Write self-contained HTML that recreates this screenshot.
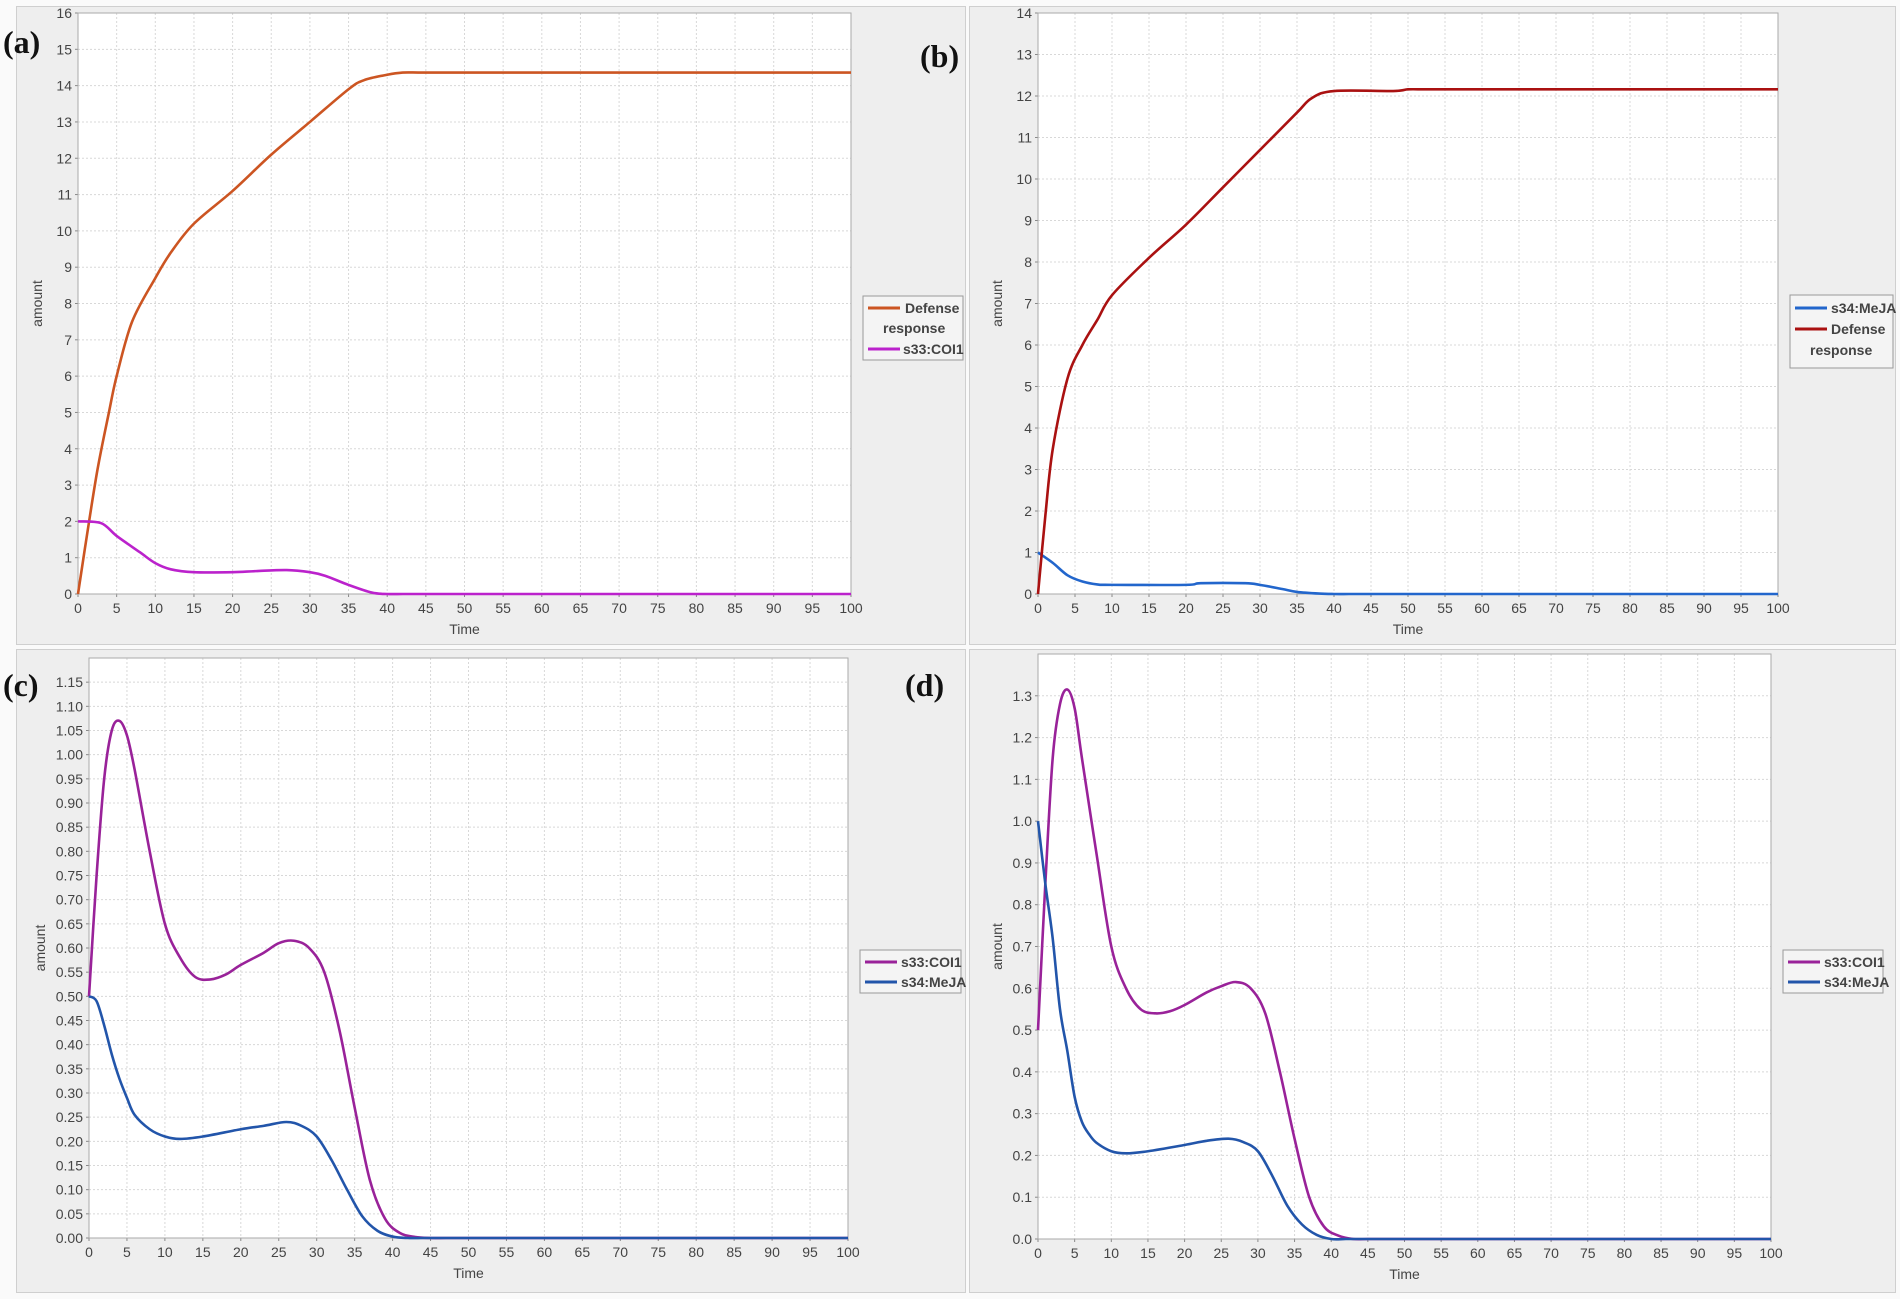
<!DOCTYPE html>
<html><head><meta charset="utf-8">
<style>
html,body{margin:0;padding:0;background:#fafafa;}
body{width:1900px;height:1299px;overflow:hidden;position:relative;font-family:"Liberation Sans",sans-serif;}
.pan{position:absolute;background:#eeeeee;border:1px solid #cfcfcf;box-sizing:border-box;}
.lbl{position:absolute;font-family:"Liberation Serif",serif;font-weight:bold;font-size:32px;color:#111;}
svg{position:absolute;left:0;top:0;}
svg text{font-family:"Liberation Sans",sans-serif;fill:#444;font-size:14px;}
</style></head><body>
<div class="pan" style="left:16px;top:6px;width:950px;height:639px"></div>
<div class="pan" style="left:969px;top:6px;width:927px;height:639px"></div>
<div class="pan" style="left:16px;top:649px;width:950px;height:644px"></div>
<div class="pan" style="left:969px;top:649px;width:927px;height:644px"></div>

<svg width="1900" height="1299" id="s">
<g id="pa" data-x0="78" data-x1="851" data-y0="594" data-y1="13" data-ymax="16">
<g class="yt"><text>0</text><text>1</text><text>2</text><text>3</text><text>4</text><text>5</text><text>6</text><text>7</text><text>8</text><text>9</text><text>10</text><text>11</text><text>12</text><text>13</text><text>14</text><text>15</text><text>16</text></g>
<g class="xt"><text>0</text><text>5</text><text>10</text><text>15</text><text>20</text><text>25</text><text>30</text><text>35</text><text>40</text><text>45</text><text>50</text><text>55</text><text>60</text><text>65</text><text>70</text><text>75</text><text>80</text><text>85</text><text>90</text><text>95</text><text>100</text></g>
<text class="xl">Time</text><text class="yl">amount</text>
</g>
<g id="pb" data-x0="1038" data-x1="1778" data-y0="594" data-y1="13" data-ymax="14">
<g class="yt"><text>0</text><text>1</text><text>2</text><text>3</text><text>4</text><text>5</text><text>6</text><text>7</text><text>8</text><text>9</text><text>10</text><text>11</text><text>12</text><text>13</text><text>14</text></g>
<g class="xt"><text>0</text><text>5</text><text>10</text><text>15</text><text>20</text><text>25</text><text>30</text><text>35</text><text>40</text><text>45</text><text>50</text><text>55</text><text>60</text><text>65</text><text>70</text><text>75</text><text>80</text><text>85</text><text>90</text><text>95</text><text>100</text></g>
<text class="xl">Time</text><text class="yl">amount</text>
</g>
<g id="pc" data-x0="89" data-x1="848" data-y0="1238" data-y1="658" data-ymax="1.2">
<g class="yt"><text>0.00</text><text>0.05</text><text>0.10</text><text>0.15</text><text>0.20</text><text>0.25</text><text>0.30</text><text>0.35</text><text>0.40</text><text>0.45</text><text>0.50</text><text>0.55</text><text>0.60</text><text>0.65</text><text>0.70</text><text>0.75</text><text>0.80</text><text>0.85</text><text>0.90</text><text>0.95</text><text>1.00</text><text>1.05</text><text>1.10</text><text>1.15</text></g>
<g class="xt"><text>0</text><text>5</text><text>10</text><text>15</text><text>20</text><text>25</text><text>30</text><text>35</text><text>40</text><text>45</text><text>50</text><text>55</text><text>60</text><text>65</text><text>70</text><text>75</text><text>80</text><text>85</text><text>90</text><text>95</text><text>100</text></g>
<text class="xl">Time</text><text class="yl">amount</text>
</g>
<g id="pd" data-x0="1038" data-x1="1771" data-y0="1239" data-y1="654" data-ymax="1.4">
<g class="yt"><text>0.0</text><text>0.1</text><text>0.2</text><text>0.3</text><text>0.4</text><text>0.5</text><text>0.6</text><text>0.7</text><text>0.8</text><text>0.9</text><text>1.0</text><text>1.1</text><text>1.2</text><text>1.3</text></g>
<g class="xt"><text>0</text><text>5</text><text>10</text><text>15</text><text>20</text><text>25</text><text>30</text><text>35</text><text>40</text><text>45</text><text>50</text><text>55</text><text>60</text><text>65</text><text>70</text><text>75</text><text>80</text><text>85</text><text>90</text><text>95</text><text>100</text></g>
<text class="xl">Time</text><text class="yl">amount</text>
</g>

<g font-weight="bold">
<rect x="863" y="296" width="100" height="64" fill="#f4f4f4" stroke="#999"/>
<line x1="868" y1="308" x2="900" y2="308" stroke="#cc5522" stroke-width="3"/>
<text x="905" y="313" font-size="12" fill="#333">Defense</text>
<text x="883" y="333" font-size="12" fill="#333">response</text>
<line x1="868" y1="349" x2="900" y2="349" stroke="#bb22cc" stroke-width="3"/>
<text x="903" y="354" font-size="12" fill="#333">s33:COI1</text>

<rect x="1790" y="295" width="103" height="73" fill="#f4f4f4" stroke="#999"/>
<line x1="1795" y1="308" x2="1827" y2="308" stroke="#2266cc" stroke-width="3"/>
<text x="1831" y="313" font-size="12" fill="#333">s34:MeJA</text>
<line x1="1795" y1="329" x2="1827" y2="329" stroke="#aa1111" stroke-width="3"/>
<text x="1831" y="334" font-size="12" fill="#333">Defense</text>
<text x="1810" y="355" font-size="12" fill="#333">response</text>

<rect x="860" y="950" width="101" height="43" fill="#f4f4f4" stroke="#999"/>
<line x1="865" y1="962" x2="897" y2="962" stroke="#992299" stroke-width="3"/>
<text x="901" y="967" font-size="12" fill="#333">s33:COI1</text>
<line x1="865" y1="982" x2="897" y2="982" stroke="#2255aa" stroke-width="3"/>
<text x="901" y="987" font-size="12" fill="#333">s34:MeJA</text>

<rect x="1783" y="950" width="100" height="43" fill="#f4f4f4" stroke="#999"/>
<line x1="1788" y1="962" x2="1820" y2="962" stroke="#992299" stroke-width="3"/>
<text x="1824" y="967" font-size="12" fill="#333">s33:COI1</text>
<line x1="1788" y1="982" x2="1820" y2="982" stroke="#2255aa" stroke-width="3"/>
<text x="1824" y="987" font-size="12" fill="#333">s34:MeJA</text>
</g>
</svg>

<div class="lbl" style="left:3px;top:24px">(a)</div>
<div class="lbl" style="left:920px;top:38px">(b)</div>
<div class="lbl" style="left:3px;top:667px">(c)</div>
<div class="lbl" style="left:905px;top:667px">(d)</div>

<script>
var NS="http://www.w3.org/2000/svg";
function app(p,n,a){var e=document.createElementNS(NS,n);for(var k in a)e.setAttribute(k,a[k]);p.appendChild(e);return e;}
var series={
pa:[["#cc5522",[[0,0],[1,1.4],[2.5,3.4],[4,5],[5,6],[7,7.5],[10,8.7],[12,9.4],[15,10.2],[20,11.1],[25,12.1],[30,13.0],[35,13.9],[37,14.15],[40,14.3],[42,14.36],[44,14.36],[100,14.36]]],
    ["#bb22cc",[[0,2],[3,1.95],[5,1.6],[8,1.15],[10,0.85],[12,0.68],[15,0.6],[20,0.6],[23,0.63],[27,0.66],[30,0.6],[32,0.5],[35,0.25],[38,0.04],[40,0],[42,0],[100,0]]]],
pb:[["#2266cc",[[0,1],[2,0.75],[4,0.45],[6,0.3],[8,0.23],[10,0.22],[20,0.22],[22,0.26],[28,0.26],[30,0.22],[33,0.12],[35,0.05],[38,0.01],[40,0],[42,0],[100,0]]],
    ["#aa1111",[[0,0],[1,1.9],[2,3.5],[4,5.2],[6,6.0],[8,6.6],[10,7.2],[15,8.1],[20,8.9],[25,9.8],[30,10.7],[35,11.6],[37,11.95],[40,12.12],[48,12.12],[50,12.16],[52,12.16],[100,12.16]]]],
pc:[["#992299",[[0,0.5],[1,0.75],[2,0.95],[3,1.05],[4,1.07],[5,1.04],[6,0.97],[8,0.8],[10,0.65],[12,0.58],[14,0.54],[16,0.535],[18,0.545],[20,0.565],[23,0.59],[25,0.61],[27,0.615],[29,0.6],[31,0.55],[33,0.43],[35,0.27],[37,0.12],[39,0.04],[41,0.01],[43,0.002],[45,0],[47,0],[100,0]]],
    ["#2255aa",[[0,0.5],[1,0.49],[2,0.44],[3,0.38],[4,0.33],[5,0.29],[6,0.255],[8,0.225],[10,0.21],[12,0.205],[15,0.21],[20,0.225],[23,0.232],[26,0.24],[28,0.232],[30,0.21],[32,0.16],[34,0.1],[36,0.045],[38,0.015],[40,0.003],[42,0],[44,0],[100,0]]]],
pd:[["#992299",[[0,0.5],[1,0.85],[2,1.15],[3,1.28],[4,1.315],[5,1.27],[6,1.15],[8,0.92],[10,0.7],[12,0.6],[14,0.55],[16,0.54],[18,0.545],[20,0.56],[23,0.59],[25,0.605],[27,0.615],[29,0.6],[31,0.54],[33,0.4],[35,0.24],[37,0.1],[39,0.03],[41,0.008],[43,0],[45,0],[100,0]]],
    ["#2255aa",[[0,1.0],[1,0.85],[2,0.72],[3,0.55],[4,0.45],[5,0.34],[6,0.28],[7,0.25],[8,0.23],[10,0.21],[12,0.205],[15,0.21],[20,0.225],[23,0.235],[26,0.24],[28,0.232],[30,0.21],[32,0.15],[34,0.08],[36,0.035],[38,0.01],[40,0],[42,0],[100,0]]]]
};
["pa","pb","pc","pd"].forEach(function(id){
  var g=document.getElementById(id);
  var x0=+g.dataset.x0,x1=+g.dataset.x1,y0=+g.dataset.y0,y1=+g.dataset.y1,ym=+g.dataset.ymax;
  var X=function(t){return x0+(x1-x0)*t/100;}, Y=function(v){return y0-(y0-y1)*v/ym;};
  var bg=document.createElementNS(NS,"g");g.insertBefore(bg,g.firstChild);
  app(bg,"rect",{x:x0,y:y1,width:x1-x0,height:y0-y1,fill:"#fff"});
  g.querySelectorAll(".yt text").forEach(function(t){var v=parseFloat(t.textContent),y=Y(v);
    t.setAttribute("x",x0-6);t.setAttribute("y",y+5);t.setAttribute("text-anchor","end");
    app(bg,"line",{x1:x0,x2:x1,y1:y,y2:y,stroke:"#d8d8d8","stroke-dasharray":"2,2"});
    app(bg,"line",{x1:x0-3,x2:x0,y1:y,y2:y,stroke:"#888"});});
  g.querySelectorAll(".xt text").forEach(function(t){var v=parseFloat(t.textContent),x=X(v);
    t.setAttribute("x",x);t.setAttribute("y",y0+19);t.setAttribute("text-anchor","middle");
    app(bg,"line",{x1:x,x2:x,y1:y1,y2:y0,stroke:"#d8d8d8","stroke-dasharray":"2,2"});
    app(bg,"line",{x1:x,x2:x,y1:y0,y2:y0+3,stroke:"#888"});});
  app(bg,"rect",{x:x0,y:y1,width:x1-x0,height:y0-y1,fill:"none",stroke:"#aaa"});
  var xl=g.querySelector(".xl");xl.setAttribute("x",(x0+x1)/2);xl.setAttribute("y",y0+40);xl.setAttribute("text-anchor","middle");xl.setAttribute("font-size","15");
  var yl=g.querySelector(".yl");var yc=(y0+y1)/2;yl.setAttribute("transform","translate("+(x0-(id=="pc"?44:36))+","+yc+") rotate(-90)");yl.setAttribute("text-anchor","middle");yl.setAttribute("font-size","15");
  series[id].forEach(function(s){
    var p=s[1].map(function(q){return [X(q[0]),Y(q[1])];});
    var n=p.length;
    var d="M"+p[0][0]+","+p[0][1];
    for(var i=0;i<n-2;i++){var a=p[i-1]||p[i],b=p[i],c=p[i+1],e=(i+2<n-1)?p[i+2]:[c[0]+(c[0]-b[0]),c[1]];
      var t=0.5/3;
      d+=" C"+(b[0]+(c[0]-a[0])*t)+","+(b[1]+(c[1]-a[1])*t)+" "+(c[0]-(e[0]-b[0])*t)+","+(c[1]-(e[1]-b[1])*t)+" "+c[0]+","+c[1];}
    d+=" L"+p[n-1][0]+","+p[n-1][1];
    app(g,"path",{d:d,fill:"none",stroke:s[0],"stroke-width":2.6,"stroke-linejoin":"round"});
  });
});
</script>
</body></html>
